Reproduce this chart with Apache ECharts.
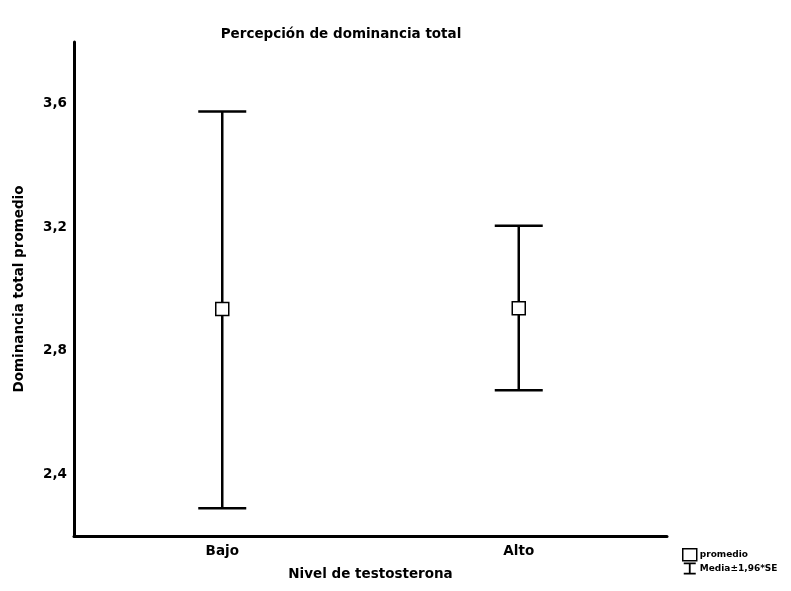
<!DOCTYPE html>
<html><head><meta charset="utf-8">
<script src="https://cdn.jsdelivr.net/npm/echarts@6/dist/echarts.min.js"></script>
<style>html,body{margin:0;padding:0;background:#fff}#c{width:791px;height:591px}</style>
</head><body><div id="c"></div>
<script>
var categories = ['Bajo', 'Alto'];
var means = [2.935, 2.938];
var lowerCI = [2.29, 2.672];
var upperCI = [3.575, 3.205];
var yTicks = [2.4, 2.8, 3.2, 3.6];

var chart = echarts.init(document.getElementById('c'));
var F = '"DejaVu Sans", "Liberation Sans", Arial, sans-serif';
var ebData = categories.map(function (c, i) { return [i, lowerCI[i], upperCI[i]]; });
var meanData = categories.map(function (c, i) { return [i, means[i]]; });

chart.setOption({
  animation: false,
  backgroundColor: '#fff',
  title: {
    text: 'Percepción de dominancia total',
    left: 336, top: 22, textAlign: 'center',
    textStyle: { fontFamily: F, fontSize: 13.5, fontWeight: 'bold', color: '#000' }
  },
  grid: { left: 74, right: 124, top: 42, bottom: 55, containLabel: false },
  legend: {
    orient: 'vertical', left: 677, top: 543, itemGap: 1, itemWidth: 14, itemHeight: 12,
    textStyle: { fontFamily: F, fontSize: 9, fontWeight: 'bold', color: '#000', padding: [0, 0, 0, -2] },
    data: [
      { name: 'promedio', icon: 'rect', itemStyle: { color: '#fff', borderColor: '#000', borderWidth: 1.5 } },
      { name: 'Media±1,96*SE', icon: 'path://M0,0 L10,0 L10,1.5 L5.75,1.5 L5.75,8.5 L10,8.5 L10,10 L0,10 L0,8.5 L4.25,8.5 L4.25,1.5 L0,1.5 Z', itemStyle: { color: '#000' } }
    ]
  },
  xAxis: {
    type: 'category', data: categories,
    name: 'Nivel de testosterona', nameLocation: 'middle', nameGap: 31,
    nameTextStyle: { fontFamily: F, fontSize: 13.5, fontWeight: 'bold', color: '#000' },
    axisLine: { lineStyle: { color: '#000', width: 3 } },
    axisTick: { show: false },
    axisLabel: { fontFamily: F, fontSize: 13.5, fontWeight: 'bold', color: '#000', margin: 8 },
    splitLine: { show: false }
  },
  yAxis: {
    type: 'value', min: 2.2, max: 3.8,
    name: 'Dominancia total promedio', nameLocation: 'middle', nameGap: 48,
    nameTextStyle: { fontFamily: F, fontSize: 13.5, fontWeight: 'bold', color: '#000' },
    axisLine: { show: true, lineStyle: { color: '#000', width: 3 } },
    axisTick: { show: false },
    axisLabel: {
      customValues: yTicks, fontFamily: F, fontSize: 13.5, fontWeight: 'bold', color: '#000', margin: 7,
      formatter: function (v) { return v.toFixed(1).replace('.', ','); }
    },
    splitLine: { show: false }
  },
  series: [
    {
      name: 'Media±1,96*SE', type: 'custom', data: ebData, z: 2,
      itemStyle: { color: '#000' },
      renderItem: function (params, api) {
        var x = api.value(0);
        var lo = api.coord([x, api.value(1)]);
        var hi = api.coord([x, api.value(2)]);
        var hw = 24;
        var st = { stroke: '#000', lineWidth: 2.5, fill: null };
        return {
          type: 'group', children: [
            { type: 'line', shape: { x1: hi[0], y1: hi[1], x2: lo[0], y2: lo[1] }, style: st },
            { type: 'line', shape: { x1: hi[0] - hw, y1: hi[1], x2: hi[0] + hw, y2: hi[1] }, style: st },
            { type: 'line', shape: { x1: lo[0] - hw, y1: lo[1], x2: lo[0] + hw, y2: lo[1] }, style: st }
          ]
        };
      }
    },
    {
      name: 'promedio', type: 'scatter', data: meanData, symbol: 'rect', symbolSize: 13, z: 5,
      itemStyle: { color: '#fff', borderColor: '#000', borderWidth: 1.5, opacity: 1 }
    }
  ]
});
</script></body></html>
